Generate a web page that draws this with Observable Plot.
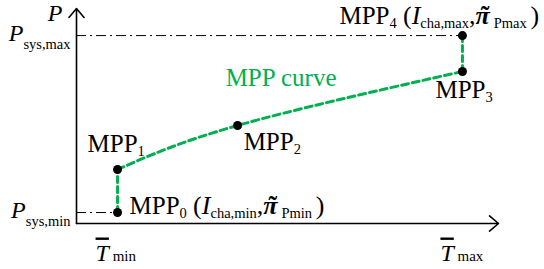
<!DOCTYPE html>
<html><head><meta charset="utf-8">
<script src="https://cdn.jsdelivr.net/npm/d3@7"></script>
<script src="https://cdn.jsdelivr.net/npm/@observablehq/plot@0.6"></script>
<style>html,body{margin:0;padding:0;background:#fff}
svg text, svg tspan{font-family:"Liberation Serif","Times New Roman",serif !important}</style>
</head><body><div id="chart"></div>
<script>
// Operating points (T in arbitrary units, P in % of axis)
const mppNames = ["MPP0", "MPP1", "MPP2", "MPP3", "MPP4"];
const mppT = [1.07, 1.07, 4.2, 10.06, 10.06];
const mppP = [5.1, 25.1, 45.6, 70.7, 87.4];
// label markup: [styles|text]  i=italic b=bold s=subscript S=deep subscript L=large m=small o=overline t=tilde accent
const mppLabels = [
  "MPP[s|0] [L|(][Li|I][s|cha,min][L|,][Lbit|π][s|Pmin ][L|)]",
  "MPP[s|1]",
  "MPP[s|2]",
  "MPP[s|3]",
  "MPP[s|4] [L|(][Li|I][s|cha,max][L|,][Lbit|π][s|Pmax ][L|)]"
];
const yAxisTitle = "[i|P]";
const yTickLabels = ["[i|P][S|sys,min]", "[i|P][S|sys,max]"];
const xTickLabels = ["[io|T][m| min]", "[io|T][m| max]"];
const curveLabel = "MPP curve";

const pts = mppNames.map((n, i) => ({name: n, T: mppT[i], P: mppP[i], label: mppLabels[i]}));
const green = "#00b050";
const font = "Liberation Serif, Times New Roman, serif";

const axes = [
  {x1: 0, y1: 0, x2: 11, y2: 0},
  {x1: 0, y1: 0, x2: 0, y2: 100}
];
const refLines = [
  {T: pts[0].T, P: pts[0].P, label: yTickLabels[0]},
  {T: pts[4].T, P: pts[4].P, label: yTickLabels[1]}
];
const xTicks = [
  {T: pts[0].T, label: xTickLabels[0]},
  {T: pts[4].T, label: xTickLabels[1]}
];

const txt = (data, opts) => Plot.text(data, Object.assign({
  x: "T", y: "P", text: "label", textAnchor: "start", lineAnchor: "bottom",
  fontSize: 25, fontFamily: font, fill: "black"
}, opts));

const chart = Plot.plot({
  width: 544, height: 269,
  marginLeft: 76, marginRight: 46, marginTop: 8, marginBottom: 46,
  x: {domain: [0, 11], axis: null},
  y: {domain: [0, 100], axis: null},
  style: {fontFamily: font, background: "white", overflow: "visible"},
  marks: [
    Plot.ruleY(refLines, {y: "P", x1: d => 0, x2: "T", stroke: "black", strokeWidth: 1, strokeDasharray: "10,4,2,4"}),
    Plot.line([pts[0], pts[1]], {x: "T", y: "P", stroke: green, strokeWidth: 3, strokeDasharray: "6,4"}),
    Plot.line([pts[3], pts[4]], {x: "T", y: "P", stroke: green, strokeWidth: 3, strokeDasharray: "6,4"}),
    Plot.line([pts[1], pts[2], pts[3]], {x: "T", y: "P", curve: "natural", stroke: green, strokeWidth: 3, strokeDasharray: "7,4"}),
    Plot.arrow(axes, {x1: "x1", y1: "y1", x2: "x2", y2: "y2", stroke: "black", strokeWidth: 1.6, headAngle: 80, headLength: 11, inset: 0}),
    Plot.dot(pts, {x: "T", y: "P", r: 4.5, fill: "black"}),
    // labels
    txt([pts[0]], {dx: 12, dy: 1}),
    txt([pts[1]], {dx: -30, dy: -18}),
    txt([pts[2]], {dx: 6, dy: 25}),
    txt([pts[3]], {dx: -27, dy: 27}),
    txt([pts[4]], {dx: -123, dy: -11.5}),
    txt([pts[2]], {text: d => curveLabel, dx: -12, dy: -39, fill: green}),
    txt([{T: 0, P: 100}], {text: d => yAxisTitle, textAnchor: "end", dx: -14, dy: 12, fontSize: 24}),
    txt(refLines, {x: d => 0, textAnchor: "end", dx: -6, dy: 5, fontSize: 24}),
    txt(xTicks, {y: d => 0, dx: -22, dy: 37, fontSize: 24})
  ]
});
document.getElementById("chart").appendChild(chart);

// Convert label markup to SVG tspans
const NS = "http://www.w3.org/2000/svg";
const re = /\[([a-zA-Z]*)\|([^\]]*)\]|([^\[]+)/g;
const LARGE = 26;
chart.querySelectorAll("text").forEach(t => {
  const s = t.textContent;
  if (!s.includes("[")) return;
  t.textContent = "";
  let shift = 0, pendingDx = 0, m;
  re.lastIndex = 0;
  while ((m = re.exec(s))) {
    const st = m[1] !== undefined ? m[1] : "";
    const str = m[1] !== undefined ? m[2] : m[3];
    const ts = document.createElementNS(NS, "tspan");
    ts.textContent = str;
    let target = 0;
    if (st.includes("i")) ts.setAttribute("font-style", "italic");
    if (st.includes("b")) ts.setAttribute("font-weight", "bold");
    if (st.includes("L")) ts.setAttribute("font-size", LARGE);
    if (st.includes("s")) { ts.setAttribute("font-size", 14.5); target = 4; }
    if (st.includes("S")) { ts.setAttribute("font-size", 14.5); target = 8; }
    if (st.includes("m")) ts.setAttribute("font-size", 15);
    if (st.includes("o")) ts.setAttribute("text-decoration", "overline");
    if (target !== shift) { ts.setAttribute("dy", target - shift); shift = target; }
    if (pendingDx) { ts.setAttribute("dx", pendingDx); pendingDx = 0; }
    t.appendChild(ts);
    if (st.includes("t")) {
      const wp = ts.getComputedTextLength();
      const tl = document.createElementNS(NS, "tspan");
      tl.textContent = "˜";
      tl.setAttribute("font-weight", "bold");
      tl.setAttribute("font-size", LARGE);
      t.appendChild(tl);
      const wt = tl.getComputedTextLength();
      const sk = 2.5;
      tl.setAttribute("dx", -(wp + wt) / 2 + sk);
      pendingDx = wp / 2 - wt / 2 - sk + 4;
    }
  }
});
</script>
</body></html>
